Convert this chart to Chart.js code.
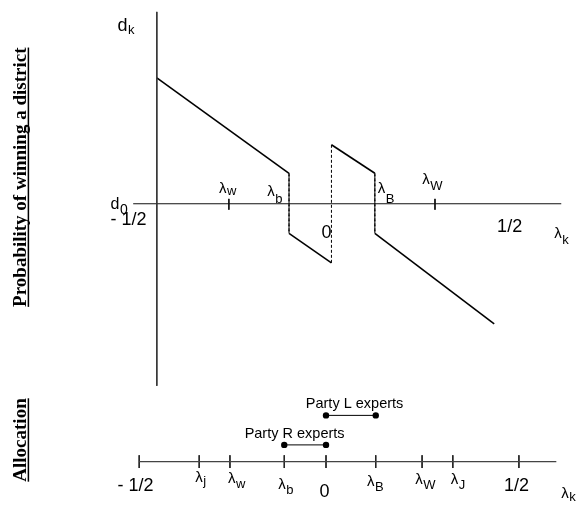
<!DOCTYPE html>
<html>
<head>
<meta charset="utf-8">
<script src="https://cdn.jsdelivr.net/npm/chart.js@4/dist/chart.umd.min.js"></script>
<style>
  html, body { margin: 0; padding: 0; background: #fff; }
  #wrap { width: 582px; height: 505px; position: relative; }
</style>
</head>
<body>
<div id="wrap"><canvas id="c" width="582" height="505"></canvas></div>
<script>
// ---- upper panel: d_k as a function of λ_k (piecewise, with jumps) ----
const curveX = [-0.4455, -0.0974, -0.0974, 0.0143, 0.0143, 0.1286, 0.1286, 0.4429];
const curveY = [1.28, 0.31, -0.30, -0.60, 0.60, 0.31, -0.30, -1.22];
// marked positions on the upper λ axis (λw, λW)
const upperTickX = [-0.2558, 0.287];
// extent of the upper axes
const upperAxisX = [-0.5078, 0.6195];
const upperAxisTop = 1.95, upperAxisBottom = -1.85, upperAxisAt = -0.4455;

// ---- lower panel: allocation line ----
const lowerTickNames = ['- 1/2', 'λj', 'λw', 'λb', '0', 'λB', 'λW', 'λJ', '1/2'];
const lowerTickX = [-0.492, -0.334, -0.253, -0.110, 0, 0.131, 0.253, 0.334, 0.508];
const lowerAxisX = [-0.4922, 0.6065];
// expert intervals
const partyNames = ['Party L experts', 'Party R experts'];
const partyFrom = [0, -0.110];
const partyTo = [0.131, 0];

// vertical rows used by the lower panel (in the shared y units)
const ROW_AXIS = -2.62, ROW_L = -2.15, ROW_R = -2.45, TICK_HALF = 0.065;

const curvePts = curveX.map((x, i) => ({ x, y: curveY[i] }));

function tickPts(xs, y0, y1) {
  const out = [];
  xs.forEach(x => { out.push({ x, y: y0 }, { x, y: y1 }, { x, y: null }); });
  return out;
}

const partyRows = [ROW_L, ROW_R];
const partyDatasets = partyNames.map((n, i) => ({
  label: n,
  data: [{ x: partyFrom[i], y: partyRows[i] }, { x: partyTo[i], y: partyRows[i] }],
  showLine: true, borderColor: '#000', borderWidth: 1,
  pointRadius: 3.2, pointBackgroundColor: '#000', pointBorderWidth: 0
}));

// text labels: main glyphs, optional subscript, left x (λ units), baseline (y units), subscript drop (px)
const GREEK = '15px "Liberation Sans", Arial, sans-serif';
const NUM = '18px "Liberation Sans", Arial, sans-serif';
const labels = [
  { t: 'd', s: 'k', x: -0.5494, y: 1.76, drop: 3, f: '18px "Liberation Sans", Arial, sans-serif', sf: '13px "Liberation Sans", Arial, sans-serif' },
  { t: 'd', s: '0', x: -0.5675, y: -0.05, drop: 5, f: '16px "Liberation Sans", Arial, sans-serif', sf: '14px "Liberation Sans", Arial, sans-serif' },
  { t: '- 1/2', x: -0.5675, y: -0.22, f: NUM },
  { t: 'λ', s: 'w', x: -0.2818, y: 0.11, drop: 2, f: GREEK },
  { t: 'λ', s: 'b', x: -0.1545, y: 0.08, drop: 7, f: GREEK },
  { t: '0', x: -0.0117, y: -0.35, f: NUM },
  { t: 'λ', s: 'B', x: 0.1364, y: 0.11, drop: 10, f: GREEK },
  { t: 'λ', s: 'W', x: 0.2532, y: 0.20, drop: 6, f: GREEK },
  { t: '1/2', x: 0.4506, y: -0.29, f: NUM },
  { t: 'λ', s: 'k', x: 0.6013, y: -0.35, drop: 6, f: GREEK },
  // lower panel
  { t: '- 1/2', x: -0.5494, y: -2.92, f: NUM },
  { t: 'λ', s: 'j', x: -0.3442, y: -2.83, drop: 3, f: GREEK },
  { t: 'λ', s: 'w', x: -0.2584, y: -2.84, drop: 5, f: GREEK },
  { t: 'λ', s: 'b', x: -0.1260, y: -2.90, drop: 5, f: GREEK },
  { t: '0', x: -0.0169, y: -2.98, f: NUM },
  { t: 'λ', s: 'B', x: 0.1078, y: -2.87, drop: 5, f: GREEK },
  { t: 'λ', s: 'W', x: 0.2351, y: -2.85, drop: 5, f: GREEK },
  { t: 'λ', s: 'J', x: 0.3286, y: -2.85, drop: 5, f: GREEK },
  { t: '1/2', x: 0.4688, y: -2.92, f: NUM },
  { t: 'λ', s: 'k', x: 0.6195, y: -2.99, drop: 3, f: GREEK },
  { t: partyNames[0], x: -0.0532, y: -2.07, f: '14.5px "Liberation Sans", Arial, sans-serif' },
  { t: partyNames[1], x: -0.2143, y: -2.38, f: '14.5px "Liberation Sans", Arial, sans-serif' }
];

// rotated, underlined panel titles
const sideTitles = [
  { t: 'Probability of winning a district', x: -0.791, y: 0.27 },
  { t: 'Allocation', x: -0.791, y: -2.40 }
];

const annotate = {
  id: 'annotate',
  afterDatasetsDraw(chart) {
    const { ctx, scales: { x: sx, y: sy } } = chart;
    ctx.save();
    ctx.fillStyle = '#000';
    ctx.textBaseline = 'alphabetic';
    ctx.textAlign = 'left';
    labels.forEach(l => {
      const px = sx.getPixelForValue(l.x), py = sy.getPixelForValue(l.y);
      ctx.font = l.f;
      ctx.fillText(l.t, px, py);
      if (l.s) {
        const w = ctx.measureText(l.t).width;
        ctx.font = l.sf || '13px "Liberation Sans", Arial, sans-serif';
        ctx.fillText(l.s, px + w + 0.5, py + l.drop);
      }
    });
    ctx.font = 'bold 19px "Liberation Serif", "Times New Roman", serif';
    sideTitles.forEach(st => {
      const px = sx.getPixelForValue(st.x), py = sy.getPixelForValue(st.y);
      ctx.save();
      ctx.translate(px, py);
      ctx.rotate(-Math.PI / 2);
      const w = ctx.measureText(st.t).width;
      ctx.fillText(st.t, -w / 2, 0);
      ctx.fillRect(-w / 2, 2, w, 1.5);
      ctx.restore();
    });
    ctx.restore();
  }
};

new Chart(document.getElementById('c'), {
  type: 'scatter',
  data: {
    datasets: [
      { // upper vertical axis
        data: [{ x: upperAxisAt, y: upperAxisTop }, { x: upperAxisAt, y: upperAxisBottom }],
        showLine: true, borderColor: '#333', borderWidth: 1, pointRadius: 0
      },
      { // upper horizontal axis (d0 level)
        data: [{ x: upperAxisX[0], y: 0 }, { x: upperAxisX[1], y: 0 }],
        showLine: true, borderColor: '#111', borderWidth: 1.1, pointRadius: 0
      },
      { // ticks on the upper axis
        data: tickPts(upperTickX, 0.05, -0.06),
        showLine: true, spanGaps: false, borderColor: '#111', borderWidth: 1, pointRadius: 0
      },
      { // d_k curve; vertical jumps dashed
        data: curvePts,
        showLine: true, borderColor: '#000', borderWidth: 1.6, pointRadius: 0,
        segment: {
          borderDash: c => c.p0.parsed.x === c.p1.parsed.x ? [3, 2] : undefined,
          borderWidth: c => c.p0.parsed.x === c.p1.parsed.x ? 1 : 1.6
        }
      },
      { // lower allocation axis
        data: [{ x: lowerAxisX[0], y: ROW_AXIS }, { x: lowerAxisX[1], y: ROW_AXIS }],
        showLine: true, borderColor: '#444', borderWidth: 1.2, pointRadius: 0
      },
      { // ticks on the lower axis
        data: tickPts(lowerTickX, ROW_AXIS + TICK_HALF, ROW_AXIS - TICK_HALF),
        showLine: true, spanGaps: false, borderColor: '#222', borderWidth: 1, pointRadius: 0
      },
      ...partyDatasets
    ]
  },
  options: {
    responsive: false,
    animation: false,
    layout: { padding: 0 },
    clip: false,
    scales: {
      x: { type: 'linear', min: -0.848, max: 0.6636, display: false },
      y: { type: 'linear', min: -3.02, max: 2.03, display: false }
    },
    plugins: { legend: { display: false }, tooltip: { enabled: false } }
  },
  plugins: [annotate]
});
</script>
</body>
</html>
